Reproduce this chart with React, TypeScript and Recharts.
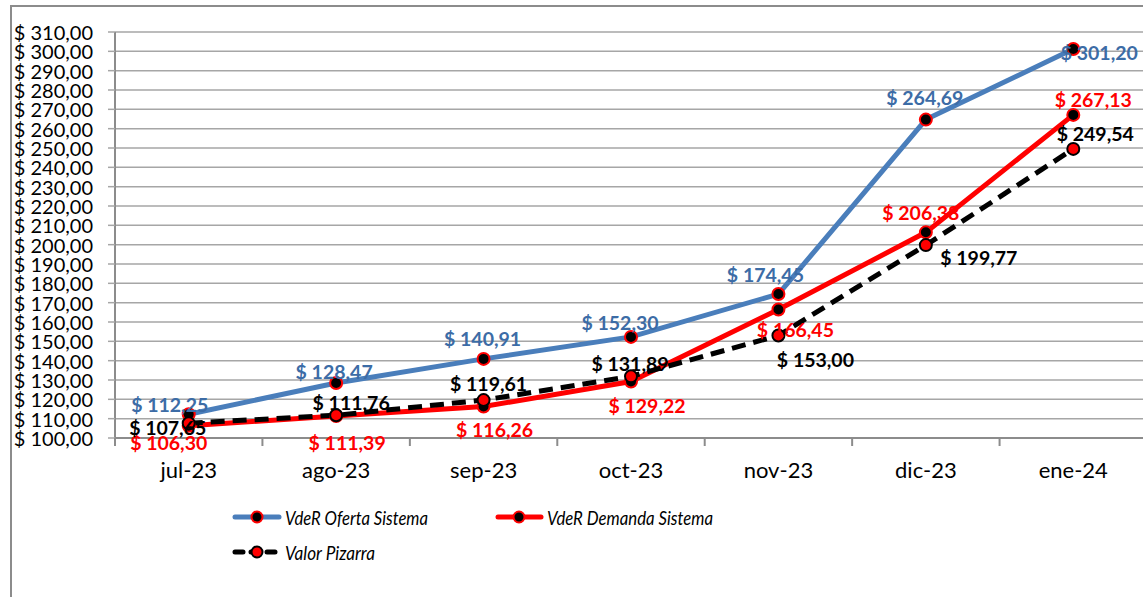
import React from 'react';
import { LineChart, Line, XAxis, YAxis, CartesianGrid, LabelList, Legend } from 'recharts';

const categories = ['jul-23', 'ago-23', 'sep-23', 'oct-23', 'nov-23', 'dic-23', 'ene-24'];
const ofertaValues = [112.25, 128.47, 140.91, 152.3, 174.45, 264.69, 301.2];
const demandaValues = [106.3, 111.39, 116.26, 129.22, 166.45, 206.38, 267.13];
const pizarraValues = [107.65, 111.76, 119.61, 131.89, 153.0, 199.77, 249.54];
const yTicks = [100, 110, 120, 130, 140, 150, 160, 170, 180, 190, 200, 210, 220, 230, 240, 250, 260, 270, 280, 290, 300, 310];
const seriesNames = ['VdeR Oferta Sistema', 'VdeR Demanda Sistema', 'Valor Pizarra'];

// label offsets (style): [dx, dy] of the text centre relative to the point
const ofertaLabelOffsets = [[-19, -10], [-2, -11], [-1, -20], [-11, -14], [-13, -20], [-1, -22], [26, 3]];
const demandaLabelOffsets = [[-20, 17], [11, 27], [11, 23], [16, 24], [17, 20], [-5, -20], [20, -15]];
const pizarraLabelOffsets = [[-21, 4], [15, -13], [5, -17], [-1, -13], [37, 24], [53, 12], [22, -15]];

const data = categories.map((c, i) => ({
  cat: c,
  oferta: ofertaValues[i],
  demanda: demandaValues[i],
  pizarra: pizarraValues[i],
}));

const FONT = 'Lato, "Open Sans", sans-serif';
const fmt = (v: number) => '$ ' + v.toFixed(2).replace('.', ',');

const CHART_W = 1160;
const CHART_H = 597;
const MARGIN = { top: 32, right: 13, left: 0, bottom: 119 };
const Y_W = 115;
const HALF_BAND = (CHART_W - Y_W - MARGIN.right) / categories.length / 2;

const makeLabel = (offsets: number[][], color: string) => (props: any) => {
  const { x, y, value, index } = props;
  const o = offsets[index] || [0, -15];
  return (
    <text
      x={x + o[0]}
      y={y + o[1]}
      textAnchor="middle"
      dominantBaseline="central"
      fill={color}
      fontFamily={FONT}
      fontWeight="bold"
      fontSize={19.5}
    >
      {fmt(value)}
    </text>
  );
};

const XTick = (props: any) => {
  const { x, y, payload } = props;
  return (
    <g>
      <line x1={x - HALF_BAND} x2={x - HALF_BAND} y1={y} y2={y + 8} stroke="#8c8c8c" strokeWidth={2} />
      <text x={x} y={y + 40} textAnchor="middle" fontFamily={FONT} fontSize={22} fill="#000">
        {payload.value}
      </text>
    </g>
  );
};

const YTick = (props: any) => {
  const { y, payload } = props;
  return (
    <text x={93} y={y} textAnchor="end" dominantBaseline="central" fontFamily={FONT} fontSize={20} fill="#000">
      {fmt(payload.value)}
    </text>
  );
};

const legendText = (x: number, y: number, label: string, len: number) => (
  <text
    x={x}
    y={y}
    dominantBaseline="central"
    fontFamily={FONT}
    fontStyle="italic"
    fontSize={20}
    fill="#000"
    textLength={len}
    lengthAdjust="spacingAndGlyphs"
  >
    {label}
  </text>
);

const LegendContent = () => (
  <svg width={1143} height={80} style={{ display: 'block' }}>
    <g>
      <line x1={235} x2={279} y1={27} y2={27} stroke="#4A7EBB" strokeWidth={5} strokeLinecap="round" />
      <circle cx={257} cy={27} r={5.5} fill="#000" stroke="#FF0000" strokeWidth={2} />
      {legendText(285, 27, seriesNames[0], 143)}
    </g>
    <g>
      <line x1={498} x2={541} y1={27} y2={27} stroke="#FF0000" strokeWidth={5} strokeLinecap="round" />
      <circle cx={519} cy={27} r={5.5} fill="#000" stroke="#FF0000" strokeWidth={2} />
      {legendText(547, 27, seriesNames[1], 166)}
    </g>
    <g>
      <line x1={235} x2={275} y1={62} y2={62} stroke="#000" strokeWidth={5} strokeDasharray="8 8" strokeLinecap="round" />
      <circle cx={257} cy={62} r={5.5} fill="#FF0000" stroke="#000" strokeWidth={2} />
      {legendText(285, 62, seriesNames[2], 90)}
    </g>
  </svg>
);

export default function App() {
  return (
    <div style={{ position: 'absolute', left: 0, top: 0, width: 1143, height: 597, overflow: 'hidden', background: '#fff' }}>
      <div
        style={{
          position: 'absolute',
          left: 10,
          top: 5,
          width: 1300,
          height: 800,
          borderLeft: '2px solid #8c8c8c',
          borderTop: '2px solid #8c8c8c',
        }}
      />
      <div style={{ position: 'absolute', left: 0, top: 0 }}>
        <LineChart width={CHART_W} height={CHART_H} data={data} margin={MARGIN}>
          <CartesianGrid horizontal vertical={false} stroke="#A6A6A6" strokeWidth={1.5} />
          <XAxis
            dataKey="cat"
            tick={<XTick />}
            tickLine={false}
            tickSize={0}
            tickMargin={0}
            axisLine={{ stroke: '#8c8c8c', strokeWidth: 2 }}
            height={40}
            interval={0}
            padding={{ left: HALF_BAND, right: HALF_BAND }}
          />
          <YAxis
            domain={[100, 310]}
            ticks={yTicks}
            interval={0}
            width={Y_W}
            tick={<YTick />}
            tickSize={7}
            tickLine={{ stroke: '#A6A6A6', strokeWidth: 1.5 }}
            axisLine={{ stroke: '#8c8c8c', strokeWidth: 2 }}
            allowDataOverflow
          />
          <Legend
            layout="horizontal"
            verticalAlign="middle"
            align="center"
            wrapperStyle={{ left: 0, top: 490, width: 1143, height: 80 }}
            content={<LegendContent />}
          />
          <Line
            type="linear"
            dataKey="oferta"
            name={seriesNames[0]}
            stroke="#4A7EBB"
            strokeWidth={5}
            dot={{ r: 6, fill: '#000', stroke: '#FF0000', strokeWidth: 2 }}
            activeDot={false}
            isAnimationActive={false}
          >
            <LabelList dataKey="oferta" content={makeLabel(ofertaLabelOffsets, '#3C6CA6')} />
          </Line>
          <Line
            type="linear"
            dataKey="demanda"
            name={seriesNames[1]}
            stroke="#FF0000"
            strokeWidth={5}
            dot={{ r: 6, fill: '#000', stroke: '#FF0000', strokeWidth: 2 }}
            activeDot={false}
            isAnimationActive={false}
          >
            <LabelList dataKey="demanda" content={makeLabel(demandaLabelOffsets, '#FF0000')} />
          </Line>
          <Line
            type="linear"
            dataKey="pizarra"
            name={seriesNames[2]}
            stroke="#000"
            strokeWidth={5}
            strokeDasharray="14 8"
            dot={{ r: 6, fill: '#FF0000', stroke: '#000', strokeWidth: 2, strokeDasharray: '' }}
            activeDot={false}
            isAnimationActive={false}
          >
            <LabelList dataKey="pizarra" content={makeLabel(pizarraLabelOffsets, '#000')} />
          </Line>
        </LineChart>
      </div>
    </div>
  );
}
